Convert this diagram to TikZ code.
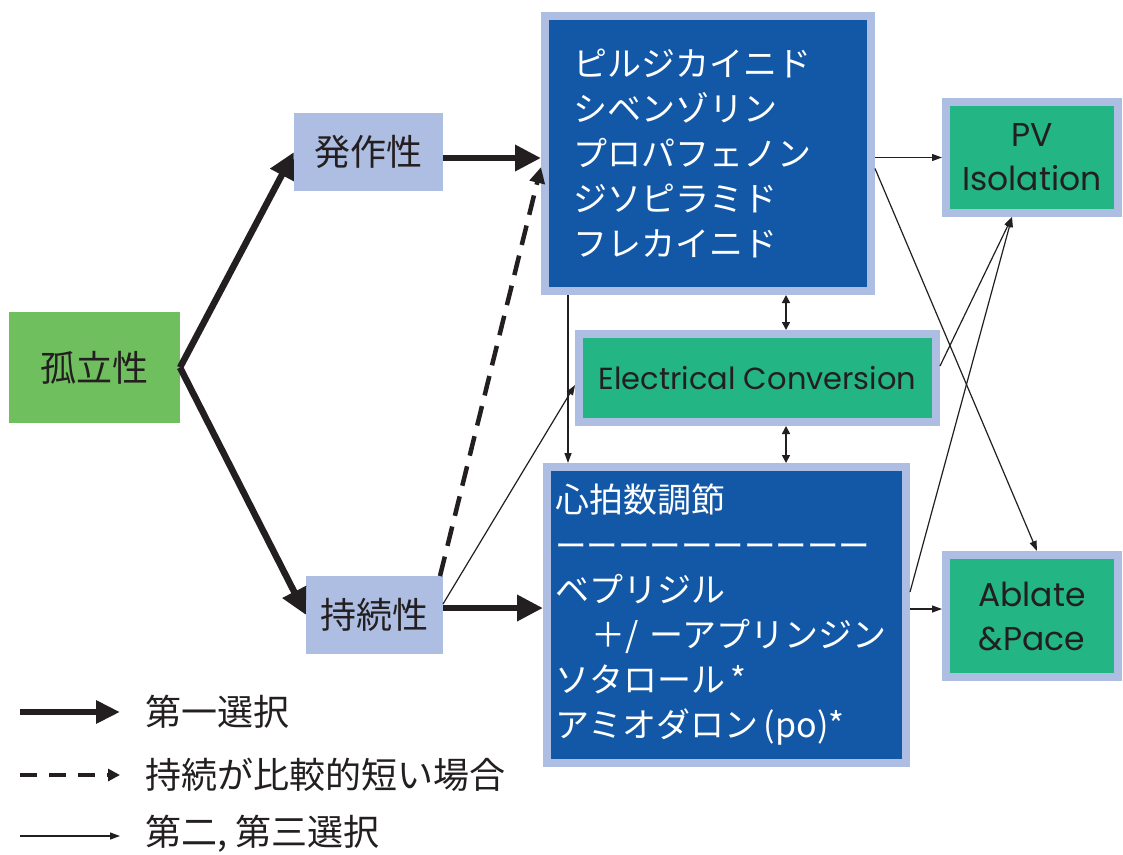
\documentclass[tikz,border=0pt]{standalone}
\usepackage{fontspec}
\setmainfont{Poppins}
\newfontfamily\jp{Noto Sans CJK JP}
\usetikzlibrary{arrows.meta,calc}
\definecolor{dblue}{HTML}{1358A6}
\definecolor{lav}{HTML}{AEBDE2}
\definecolor{tgreen}{HTML}{24B584}
\definecolor{lgreen}{HTML}{70BF5E}
\definecolor{ink}{HTML}{231F20}
\tikzset{
  plainbox/.style={inner sep=0pt, outer sep=0pt, text=ink, font=\jp\fontsize{36}{44}\selectfont},
  framed/.style={draw=lav, line width=8pt, inner sep=0pt, outer sep=4pt},
  bluebox/.style={framed, fill=dblue, text=white, align=left, font=\jp\fontsize{34}{45}\selectfont},
  greenbox/.style={framed, fill=tgreen, text=ink, align=center, font=\fontsize{33}{44}\selectfont},
  firstarrow/.style={draw=ink, line width=6.5pt, -{Triangle[length=26pt,width=25pt]}},
  shortarrow/.style={draw=ink, line width=4.5pt, dash pattern=on 20pt off 11pt, -{Triangle[length=16pt,width=15pt]}},
  otherarrow/.style={draw=ink, line width=1.2pt, -{Triangle[length=10pt,width=7pt]}},
  bothway/.style={draw=ink, line width=1.6pt, {Triangle[length=8pt,width=8pt]}-{Triangle[length=8pt,width=8pt]}},
  legendtext/.style={anchor=west, inner sep=0pt, text=ink, font=\jp\fontsize{36}{40}\selectfont}
}
\begin{document}
\begin{tikzpicture}[x=1pt,y=-1pt]
\useasboundingbox[fill=white] (0,0) rectangle (1123,854);

% left nodes
\node[plainbox, fill=lgreen, minimum width=171pt, minimum height=111pt] (kor) at (94.5,367.5) {孤立性};
\node[plainbox, fill=lav, minimum width=149pt, minimum height=78pt] (hos) at (368.5,152) {発作性};
\node[plainbox, fill=lav, minimum width=137pt, minimum height=78pt] (jiz) at (374.5,615) {持続性};

% blue boxes
\node[bluebox, minimum height=275pt, text width=270pt, inner xsep=28pt] (top) at (708,153.5)
  {ピルジカイニド\\シベンゾリン\\プロパフェノン\\ジソピラミド\\フレカイニド};
\node[bluebox, minimum height=296pt, text width=343pt, inner xsep=8pt] (bot) at (726.5,615)
  {心拍数調節\\{\fontsize{31.5}{45}\selectfont ーーーーーーーーーー}\\ベプリジル\\\hspace*{36pt}＋/ ーアプリンジン\\ソタロール\,*\\アミオダロン\,(po)*};

% green boxes
\node[greenbox, minimum width=357pt, minimum height=88pt, font=\fontsize{30.5}{44}\selectfont] (ec) at (757.5,378) {Electrical Conversion};
\node[greenbox, minimum width=172pt, minimum height=111pt] (pv) at (1032,157.5) {PV\\Isolation};
\node[greenbox, minimum width=172pt, minimum height=122pt] (abl) at (1032,616) {Ablate\\\&Pace};

% first choice
\draw[firstarrow] (kor.east) -- (hos.west);
\draw[firstarrow] (kor.east) -- (jiz.west);
\draw[firstarrow] ([yshift=-6pt]hos.east) -- ([yshift=-6pt]hos.east -| top.west);
\draw[firstarrow] ([yshift=7pt]jiz.east) -- ([yshift=7pt]jiz.east -| bot.west);

% short duration
\draw[shortarrow] ([xshift=-3pt]jiz.north east) -- ([yshift=-13.5pt]top.west);

% second / third choices
\draw[otherarrow] ([yshift=11pt]jiz.east) -- ([yshift=-7pt]ec.west);
\draw[otherarrow] ([xshift=27pt]top.south west) -- ([xshift=25pt]bot.north west);
\draw[bothway] ([xshift=245pt]top.south west) -- ([xshift=211pt]ec.north west);
\draw[bothway] ([xshift=211pt]ec.south west) -- ([xshift=243pt]bot.north west);
\draw[otherarrow] (top.east |- pv.west) -- (pv.west);
\draw[otherarrow] ([yshift=-15pt]top.east) -- ([xshift=5pt]abl.north);
\draw[otherarrow] ([yshift=12pt]ec.east) -- ([xshift=-20pt]pv.south);
\draw[otherarrow] ([yshift=23pt]bot.east) -- ([xshift=-20pt]pv.south);
\draw[otherarrow] ([yshift=6pt]bot.east) -- ([yshift=6pt]bot.east -| abl.west);

% legend
\coordinate (l1a) at (20,712); \coordinate (l1b) at (120,712);
\coordinate (l2a) at (20,775); \coordinate (l2b) at (120,775);
\coordinate (l3a) at (20,836); \coordinate (l3b) at (120,836);
\draw[firstarrow, line width=6pt, -{Triangle[length=24pt,width=22pt]}] (l1a) -- (l1b);
\draw[draw=ink, line width=4.5pt, dash pattern=on 17pt off 12pt, -{Triangle[length=12pt,width=12pt]}] (l2a) -- (l2b);
\draw[otherarrow] (l3a) -- (l3b);
\node[legendtext] (t1) at (145,712) {第一選択};
\node[legendtext] (t2) at (145,775) {持続が比較的短い場合};
\node[legendtext] (t3) at (145,834) {第二, 第三選択};
\end{tikzpicture}
\end{document}
